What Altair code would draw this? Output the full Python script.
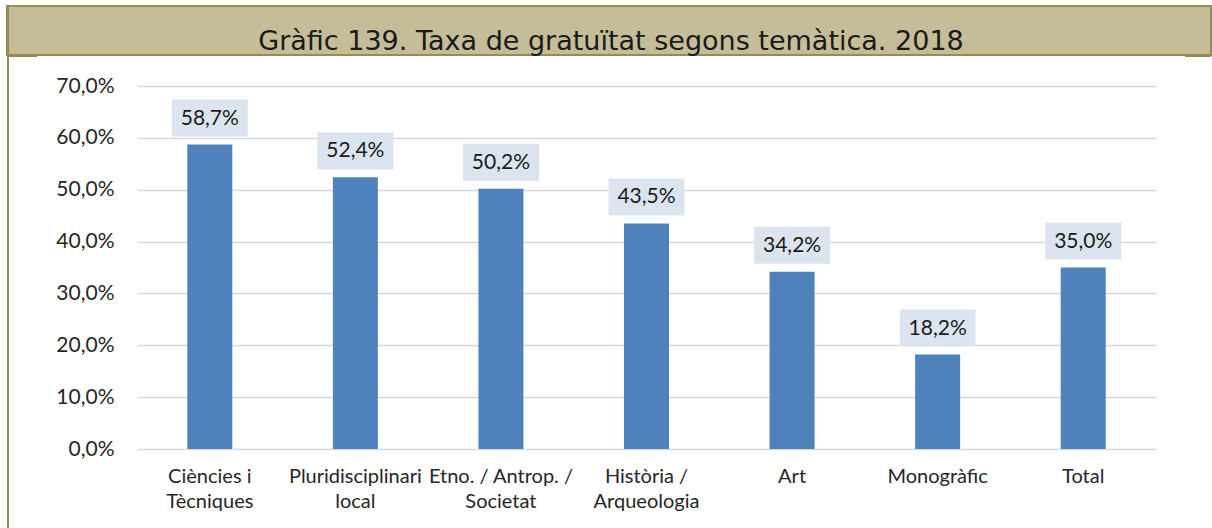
import altair as alt
import pandas as pd

# Categories (line breaks mark where the axis label wraps) and free-entry rates in %
categories = [
    "Ciències i\nTècniques",
    "Pluridisciplinari\nlocal",
    "Etno. / Antrop. /\nSocietat",
    "Història /\nArqueologia",
    "Art",
    "Monogràfic",
    "Total",
]
rates = [58.7, 52.4, 50.2, 43.5, 34.2, 18.2, 35.0]
y_ticks = [0, 10, 20, 30, 40, 50, 60, 70]
title_text = "Gràfic 139. Taxa de gratuïtat segons temàtica. 2018"

df = pd.DataFrame({"cat": categories, "rate": rates})
df["label"] = [f"{v:.1f}%".replace(".", ",") for v in df["rate"]]

W, H = 1019, 363
FONT = "Lato"

x_enc = alt.X(
    "cat:N",
    sort=None,
    title=None,
    scale=alt.Scale(paddingInner=0.0, paddingOuter=0.0),
    axis=alt.Axis(
        labelAngle=0,
        labelExpr="split(datum.label, '\\n')",
        labelFont=FONT,
        labelFontSize=20,
        labelColor="#262626",
        labelPadding=17,
        labelLineHeight=25,
        labelBaseline="top",
        domain=False,
        ticks=False,
    ),
)
y_scale = alt.Scale(domain=[0, 70], nice=False)

base = alt.Chart(df)

bars = base.mark_bar(size=45, color="#4f81bd").encode(
    x=x_enc,
    y=alt.Y(
        "rate:Q",
        scale=y_scale,
        title=None,
        axis=alt.Axis(
            values=y_ticks,
            labelExpr="replace(format(datum.value, '.1f'), '.', ',') + '%'",
            labelFont=FONT,
            labelFontSize=21,
            labelColor="#262626",
            labelPadding=23,
            domain=False,
            ticks=False,
            gridColor="#d9d9d9",
            gridWidth=1.5,
        ),
    ),
)

label_boxes = base.mark_bar(
    size=76, color="#dbe4ef", yOffset=-8, y2Offset=-45
).encode(
    x=alt.X("cat:N", sort=None),
    y=alt.Y("rate:Q", scale=y_scale),
    y2="rate:Q",
)

label_text = base.mark_text(
    font=FONT, fontSize=21, color="#1a1a1a", baseline="middle", dy=-26
).encode(
    x=alt.X("cat:N", sort=None),
    y=alt.Y("rate:Q", scale=y_scale),
    text="label:N",
)

# Title banner above the plot, plus the frame line on the left
banner = alt.Chart(pd.DataFrame({"t": [title_text]})).mark_rect(
    fill="#c5bd97", stroke="#958b57", strokeWidth=2
).encode(
    x=alt.value(-130), x2=alt.value(1074), y=alt.value(-80), y2=alt.value(-31)
)
frame_left = alt.Chart(pd.DataFrame({"t": [0]})).mark_rule(
    color="#958b57", strokeWidth=2
).encode(x=alt.value(-129), y=alt.value(-81), y2=alt.value(442))
stub_left = alt.Chart(pd.DataFrame({"t": [0]})).mark_rule(
    color="#958b57", strokeWidth=2
).encode(x=alt.value(-129), x2=alt.value(-100), y=alt.value(-30))
stub_right = alt.Chart(pd.DataFrame({"t": [0]})).mark_rule(
    color="#958b57", strokeWidth=2
).encode(x=alt.value(1048), x2=alt.value(1074), y=alt.value(-30))
title = alt.Chart(pd.DataFrame({"t": [title_text]})).mark_text(
    font="DejaVu Sans", fontSize=27, color="#1a1a1a", baseline="alphabetic", align="center"
).encode(x=alt.value(474), y=alt.value(-36), text="t:N")

chart = (
    alt.layer(banner, frame_left, stub_left, stub_right, title, bars, label_boxes, label_text)
    .properties(
        width=W,
        height=H,
        autosize=alt.AutoSizeParams(type="none"),
        padding={"left": 137, "top": 86, "right": 56, "bottom": 79},
        background="white",
    )
    .configure_view(stroke=None)
)

chart.save("out.html", embed_options={"renderer": "svg", "actions": False})
